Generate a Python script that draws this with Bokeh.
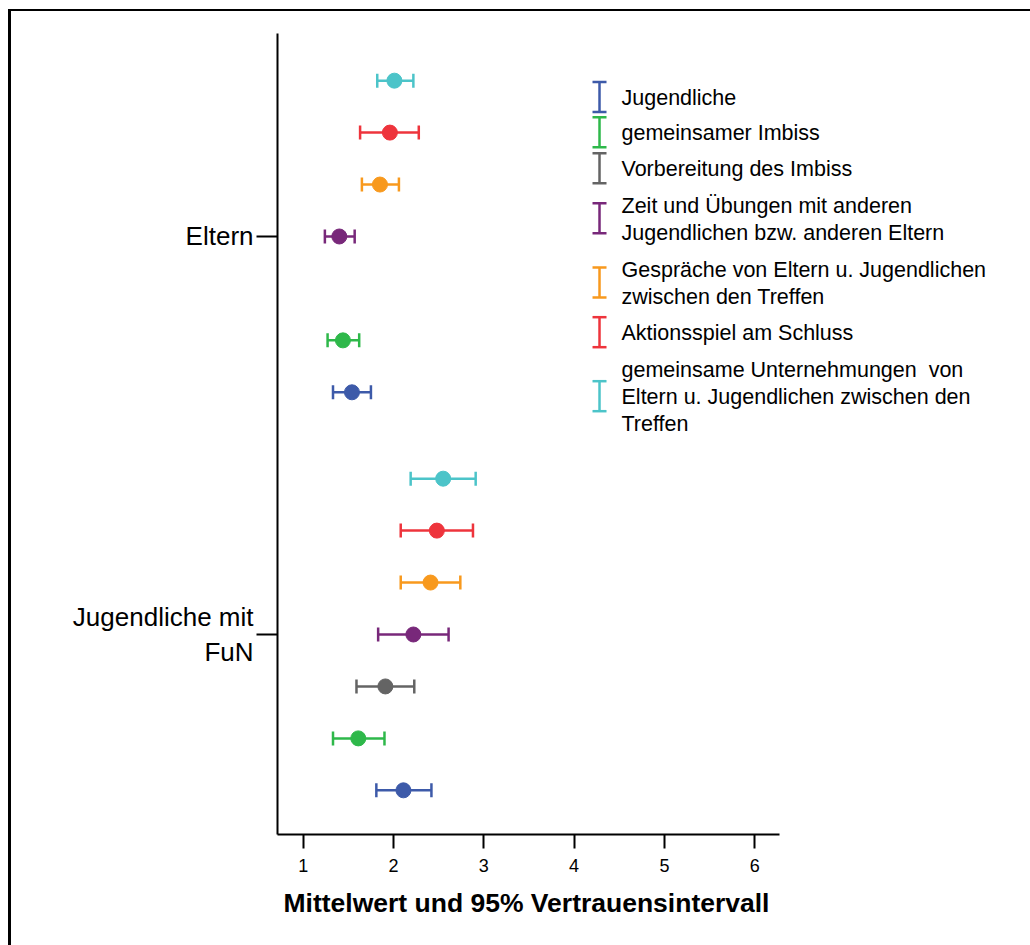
import numpy as np
from bokeh.plotting import figure
from bokeh.models import Range1d, FixedTicker, Label, ColumnDataSource, Title
from bokeh.embed import file_html
from bokeh.resources import INLINE

# ---------------- data ----------------
series = [
    "Jugendliche",
    "gemeinsamer Imbiss",
    "Vorbereitung des Imbiss",
    "Zeit und Übungen mit anderen\nJugendlichen bzw. anderen Eltern",
    "Gespräche von Eltern u. Jugendlichen\nzwischen den Treffen",
    "Aktionsspiel am Schluss",
    "gemeinsame Unternehmungen \u00a0von\nEltern u. Jugendlichen zwischen den\nTreffen",
]
colors = ["#3D5AA9", "#2EB84A", "#646464", "#78287A", "#F8991D", "#EE343C", "#4CC4C9"]

groups = ["Jugendliche mit\nFuN", "Eltern"]

eltern_mean = [1.54, 1.44, np.nan, 1.40, 1.85, 1.96, 2.01]
eltern_lo = [1.33, 1.27, np.nan, 1.24, 1.65, 1.63, 1.82]
eltern_hi = [1.75, 1.62, np.nan, 1.57, 2.06, 2.28, 2.22]

jug_mean = [2.11, 1.61, 1.91, 2.22, 2.41, 2.48, 2.55]
jug_lo = [1.81, 1.33, 1.59, 1.83, 2.08, 2.08, 2.19]
jug_hi = [2.42, 1.90, 2.23, 2.61, 2.74, 2.88, 2.91]

x_ticks = [1, 2, 3, 4, 5, 6]
x_axis_min, x_axis_max = 0.7154, 6.2745
x_title = "Mittelwert und 95% Vertrauensintervall"

# ---------------- figure ----------------
FONT = "Liberation Sans"
p = figure(
    width=1030, height=945,
    output_backend="svg", toolbar_location=None,
    x_range=Range1d(x_axis_min, 9.054),
    y_range=Range1d(-0.5025, 1.510),
    min_border_left=277, min_border_right=0,
    min_border_top=33, min_border_bottom=111,
)
p.outline_line_color = None
p.background_fill_color = "white"
p.border_fill_color = None
p.xgrid.visible = False
p.ygrid.visible = False
# outer frame of the chart: left and top lines only
p.styles = {
    "background-color": "white",
    "background-image": "linear-gradient(#000,#000), linear-gradient(#000,#000)",
    "background-size": "3px 100%, 100% 2px",
    "background-position": "8px 9px, 8px 9px",
    "background-repeat": "no-repeat",
}

xa = p.xaxis[0]
xa.ticker = FixedTicker(ticks=x_ticks)
xa.bounds = (x_axis_min, x_axis_max)
xa.major_label_text_font = FONT
xa.major_label_text_font_size = "18px"
xa.major_label_text_color = "black"
xa.major_label_standoff = 10
xa.major_tick_out = 14
xa.major_tick_in = 0
xa.minor_tick_out = 0
xa.minor_tick_in = 0
xa.axis_line_width = 2
xa.major_tick_line_width = 2
xa.axis_line_color = "black"
xa.major_tick_line_color = "black"

# x-axis title, centred under the drawn part of the axis
p.add_layout(Title(
    text=x_title, align="left", offset=6, standoff=23,
    text_font=FONT, text_font_size="26.5px", text_font_style="bold",
    text_color="black",
), "below")

ya = p.yaxis[0]
ya.ticker = FixedTicker(ticks=[0, 1])
ya.major_label_overrides = {0: groups[0], 1: groups[1]}
ya.major_label_text_font = FONT
ya.major_label_text_font_size = "26px"
ya.major_label_text_color = "black"
ya.major_label_text_line_height = 1.17
ya.major_label_standoff = 3
ya.major_tick_out = 21
ya.major_tick_in = 0
ya.minor_tick_out = 0
ya.minor_tick_in = 0
ya.axis_line_width = 2
ya.major_tick_line_width = 2
ya.axis_line_color = "black"
ya.major_tick_line_color = "black"

SLOT = 0.1305


# y position: series index 0 at bottom, index 6 at top; index 3 on the group tick
def ypos(center, i):
    return center + (i - 3) * SLOT


def add_group(center, mean, lo, hi):
    ys, ms, los, his, cs = [], [], [], [], []
    for i in range(len(series)):
        if np.isnan(mean[i]):
            continue
        ys.append(ypos(center, i))
        ms.append(mean[i]); los.append(lo[i]); his.append(hi[i]); cs.append(colors[i])
    src = ColumnDataSource(dict(y=ys, m=ms, lo=los, hi=his, c=cs))
    p.segment(x0="lo", y0="y", x1="hi", y1="y", line_color="c", line_width=2.5, source=src)
    p.scatter(x="lo", y="y", marker="dash", angle=np.pi / 2, size=14,
              line_color="c", line_width=2.5, source=src)
    p.scatter(x="hi", y="y", marker="dash", angle=np.pi / 2, size=14,
              line_color="c", line_width=2.5, source=src)
    p.scatter(x="m", y="y", marker="circle", size=15,
              fill_color="c", line_color="c", source=src)


add_group(0, jug_mean, jug_lo, jug_hi)
add_group(1, eltern_mean, eltern_lo, eltern_hi)

# ---------------- legend (drawn manually: I-beam icons + multi-line text) -------------
PX_X = 90.3     # px per x unit
PX_Y = 398.0    # px per y unit


def to_x(px):
    return 1 + (px - 302.7) / PX_X


def to_y(py):
    return (634 - py) / PX_Y


leg_icon_px = [96.5, 131.7, 167.7, 217.7, 282.0, 331.7, 395.7]
icon_x = to_x(599)
half_h = 15 / PX_Y
leg_src = ColumnDataSource(dict(
    x=[icon_x] * len(series),
    y0=[to_y(v) - half_h for v in leg_icon_px],
    y1=[to_y(v) + half_h for v in leg_icon_px],
    c=colors,
))
p.segment(x0="x", y0="y0", x1="x", y1="y1", line_color="c", line_width=2.5, source=leg_src)
p.scatter(x="x", y="y0", marker="dash", size=14, line_color="c", line_width=2.5, source=leg_src)
p.scatter(x="x", y="y1", marker="dash", size=14, line_color="c", line_width=2.5, source=leg_src)

for name, py in zip(series, leg_icon_px):
    p.add_layout(Label(
        x=to_x(621), y=to_y(py + 1), text=name,
        text_font=FONT, text_font_size="21.5px", text_color="black",
        text_align="left", text_baseline="middle", text_line_height=1.13,
    ))

open("out.html", "w").write(file_html(p, INLINE))
